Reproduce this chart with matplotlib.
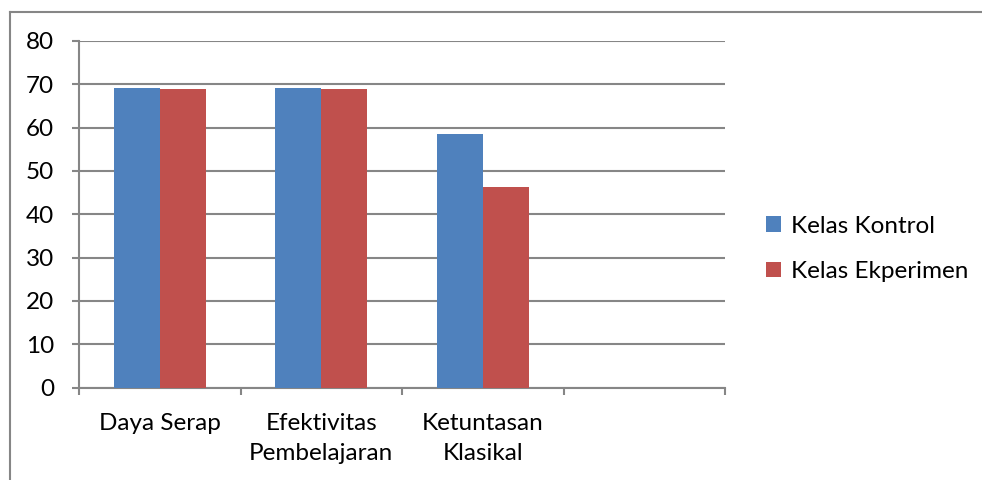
import numpy as np
import matplotlib.pyplot as plt
from matplotlib.lines import Line2D

categories = ['Daya Serap', 'Efektivitas\nPembelajaran', 'Ketuntasan\nKlasikal', '']
kontrol = [69.2, 69.2, 58.5]
ekperimen = [68.9, 68.9, 46.4]
series_names = ['Kelas Kontrol', 'Kelas Ekperimen']
yticks = [0, 10, 20, 30, 40, 50, 60, 70, 80]

plt.rcParams['font.family'] = ['Lato', 'DejaVu Sans']
grey = '#868686'
fs = 17.5

fig = plt.figure(figsize=(9.82, 4.8), dpi=100)
ax = fig.add_axes([79/982, 1-387.5/480, (725-79)/982, (387.5-41)/480])

x = np.arange(len(kontrol)) + 0.5
w = 0.285
ax.bar(x - w/2, kontrol, w, color='#4F81BD', label=series_names[0], zorder=3)
ax.bar(x + w/2, ekperimen, w, color='#C0504D', label=series_names[1], zorder=3)

ax.set_xlim(0, len(categories))
ax.set_ylim(0, 80)
ax.set_yticks(yticks)
ax.set_yticklabels([str(v) for v in yticks], fontsize=fs)
ax.yaxis.grid(True, color=grey, linewidth=1.5, zorder=0)

ax.set_xticks(np.arange(len(categories) + 1))
ax.set_xticklabels([])
ax.set_xticks(np.arange(len(categories)) + 0.5, minor=True)
ax.set_xticklabels(categories, minor=True, fontsize=fs, linespacing=1.55)
ax.tick_params(axis='x', which='minor', length=0, pad=18)
ax.tick_params(axis='x', which='major', length=5, width=1.5, color=grey, direction='out')
ax.tick_params(axis='y', length=5, width=1.5, color=grey, pad=13)

for s in ['top', 'right']:
    ax.spines[s].set_visible(False)
for s in ['left', 'bottom']:
    ax.spines[s].set_color(grey)
    ax.spines[s].set_linewidth(1.5)

ax.legend(loc='center left', bbox_to_anchor=(1.03, 0.40), frameon=False,
          fontsize=fs, handlelength=0.6, handleheight=0.6, handletextpad=0.4,
          labelspacing=1.0)

# outer chart border (left and top edges)
fig.add_artist(Line2D([10/982, 10/982], [0, 1-12/480], color=grey, linewidth=1.5))
fig.add_artist(Line2D([10/982, 1], [1-12/480, 1-12/480], color=grey, linewidth=1.5))

fig.savefig('out.png', dpi=100)
